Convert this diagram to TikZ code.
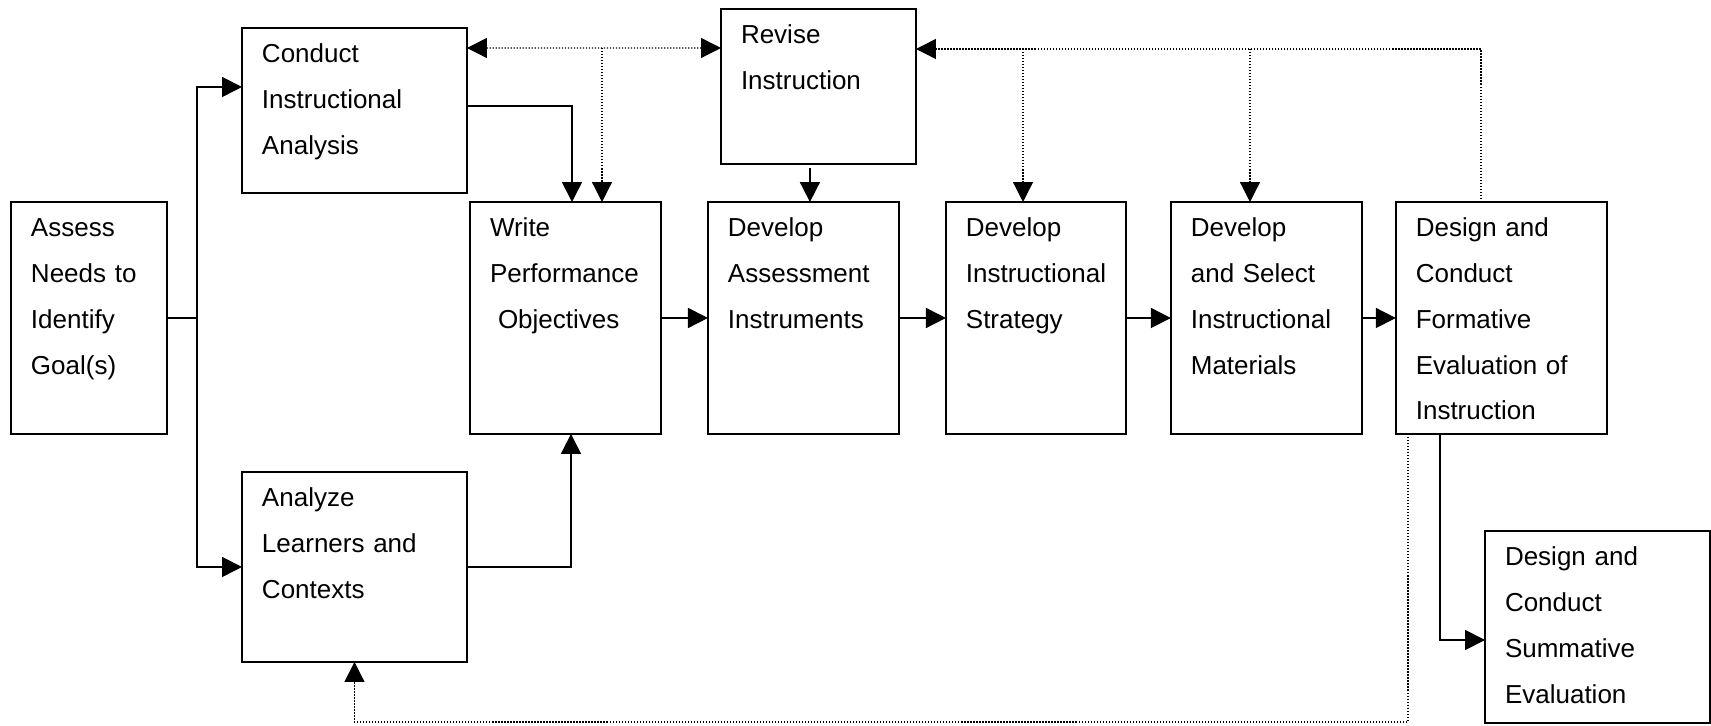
\documentclass[tikz,border=0pt]{standalone}
\usepackage{fontspec}
\setmainfont{Liberation Sans}
\usetikzlibrary{positioning,arrows.meta}

\begin{document}
\begin{tikzpicture}[
    x=0.02cm, y=-0.02cm,
    >={Triangle[length=0.4cm, width=0.4cm]},
    stage/.style 2 args={rectangle, draw=black, line width=0.04cm, anchor=north west,
        align=left, inner xsep=0.4cm, inner ysep=0pt, outer sep=0pt,
        text width=#1, text height=0.7cm, text depth=#2,
        font=\fontsize{14.8}{26}\selectfont},
    flow/.style={line width=0.035cm},
    fb/.style={line width=0.025cm, densely dotted},
    ]
    \useasboundingbox (0,0) rectangle (1711,726);

    %% left column
    \node[stage={2.32cm}{3.94cm}] (assess) at (11,202) {Assess\\Needs to\\Identify\\Goal(s)};
    \node[stage={3.7cm}{2.6cm}] (conduct) at (242,28) {Conduct\\Instructional\\Analysis};
    \node[stage={3.7cm}{3.1cm}] (analyze) at (242,472) {Analyze\\Learners and\\Contexts};

    %% main row
    \node[stage={3.02cm}{3.94cm}] (write) at (470,202) {Write\\Performance\\\hspace*{0.16cm}Objectives};
    \node[stage={3.02cm}{3.94cm}, right=0.94cm of write] (instruments) {Develop\\Assessment\\Instruments};
    \node[stage={2.8cm}{3.94cm}, right=0.94cm of instruments] (strategy) {Develop\\Instructional\\Strategy};
    \node[stage={3.02cm}{3.94cm}, right=0.9cm of strategy] (materials) {Develop\\and Select\\Instructional\\Materials};
    \node[stage={3.42cm}{3.94cm}, right=0.68cm of materials] (formative) {Design and\\Conduct\\Formative\\Evaluation of\\Instruction};

    %% revision and summative evaluation
    \node[stage={3.1cm}{2.4cm}] (revise) at (721,9) {Revise\\Instruction};
    \node[stage={3.7cm}{3.14cm}] (summative) at (1485,531) {Design and\\Conduct\\Summative\\Evaluation};

    %% split after needs assessment
    \coordinate (split) at (197,318);
    \draw[flow]     (assess.east) -- (split);
    \draw[flow, ->] (split) |- ([yshift=0.47cm]conduct.west);
    \draw[flow, ->] (split) |- (analyze.west);

    %% arrows into objectives
    \draw[flow, ->] ([yshift=0.09cm]conduct.east) -| ([xshift=0.13cm]write.north);
    \draw[flow, ->] (analyze.east) -| ([xshift=0.11cm]write.south);

    %% main row arrows
    \draw[flow, ->] (write.east) -- (instruments.west);
    \draw[flow, ->] (instruments.east) -- (strategy.west);
    \draw[flow, ->] (strategy.east) -- (materials.west);
    \draw[flow, ->] (materials.east) -- (formative.west);

    %% revise down to assessment
    \coordinate (revise_in) at ([xshift=0.13cm]instruments.north);
    \draw[flow, ->] ([yshift=-0.08cm]revise.south -| revise_in) -- (revise_in);

    %% feedback lines
    % left
    \draw[fb, <->] ([yshift=-0.4cm]conduct.north east) -- ([yshift=-0.78cm]revise.north west);
    \coordinate (fb_write) at (602,48);
    \draw[fb, ->]  (fb_write) -- (fb_write |- write.north);
    % right
    \coordinate (fb_right) at (1481,49);
    \draw[fb, ->]  (fb_right |- formative.north) -- (fb_right) -- (fb_right -| revise.east);
    \coordinate (fb_strategy) at (1023,49);
    \coordinate (fb_materials) at (1250,49);
    \draw[fb, ->]  (fb_strategy) -- (fb_strategy |- strategy.north);
    \draw[fb, ->]  (fb_materials) -- (fb_materials |- materials.north);
    % bottom
    \coordinate (fb_bottom) at (1408,722);
    \draw[fb, ->]  (fb_bottom |- formative.south) -- (fb_bottom) -| (analyze.south);

    %% formative to summative
    \coordinate (sum_in) at (1440,640);
    \draw[flow, ->] (sum_in |- formative.south) -- (sum_in) -- (sum_in -| summative.west);
\end{tikzpicture}
\end{document}
